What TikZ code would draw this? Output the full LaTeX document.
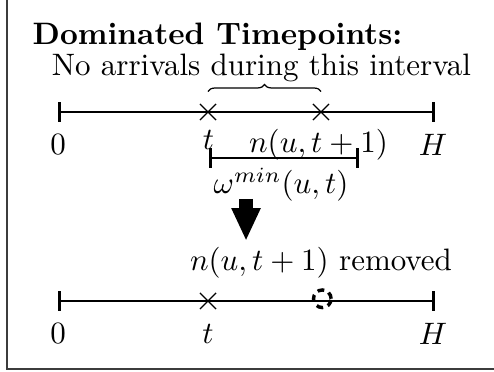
\documentclass[tikz,border=0pt]{standalone}
\usepackage{amsmath,amssymb}
\usepackage{tikz}
\usetikzlibrary{arrows.meta,decorations.pathreplacing,shapes.misc,positioning}
\definecolor{tlInk}{RGB}{0,0,0}
\definecolor{tlFrame}{RGB}{60,60,60}
\tikzset{
  timeline/.style={line width=0.9pt,draw=tlInk,{Bar[width=6.4pt]}-{Bar[width=6.4pt]}},
  tmark/.style={cross out,draw=tlInk,line width=0.4pt,minimum size=4.8pt,inner sep=0pt},
  tlabel/.style={inner sep=0pt,font=\normalsize},
}
\begin{document}
\begin{tikzpicture}
  \useasboundingbox (0,0) rectangle (5.602,4.218);
  \draw[tlFrame,line width=0.6pt] (0.079,4.3) |- (5.7,0.034);
  % heading
  \node[anchor=base,inner sep=0pt,font=\bfseries] (head) at (2.466,3.708) {Dominated Timepoints:};
  \node[anchor=base,inner sep=0pt] (note) at (2.965,3.357) {No arrivals during this interval};
  % upper time line
  \coordinate (u0) at (0.658,2.948);
  \coordinate (uH) at (4.933,2.948);
  \draw[timeline] (u0) -- (uH);
  \node[tmark] (ut) at (2.359,2.948) {};
  \node[tmark] (un) at (3.640,2.948) {};
  \draw[line width=0.4pt,decorate,decoration={brace,amplitude=2.3pt}]
    ([yshift=6.6pt]ut.center) -- ([yshift=6.6pt]un.center);
  \node[tlabel] (u0lab) at (0.658,2.574) {$0$};
  \node[tlabel] (utlab) at (2.365,2.631) {$t$};
  \node[tlabel] (unlab) at (3.612,2.574) {$n(u,t+1)$};
  \node[tlabel] (uHlab) at (4.910,2.574) {$H$};
  % minimum interval
  \coordinate (w0) at (2.370,2.427);
  \coordinate (w1) at (4.071,2.427);
  \draw[timeline] (w0) -- (w1);
  \node[tlabel] (wlab) at (3.187,2.121) {$\omega^{min}(u,t)$};
  % big arrow
  \coordinate (arrA) at (2.790,1.962);
  \coordinate (arrB) at (2.790,1.486);
  \draw[line width=4.5pt,-{Triangle[width=8.7pt,length=10.6pt]}] (arrA) -- (arrB);
  \node[tlabel] (rmlab) at (3.640,1.236) {$n(u,t+1)$ removed};
  % lower time line
  \coordinate (l0) at (0.658,0.805);
  \coordinate (lH) at (4.933,0.805);
  \draw[timeline] (l0) -- (lH);
  \node[tmark] (lt) at (2.359,0.805) {};
  \node[circle,draw=tlInk,dash pattern=on 2.2pt off 1.6pt,line width=1.1pt,minimum size=0.2cm,inner sep=0pt] (gone) at (3.655,0.83) {};
  \node[tlabel] (l0lab) at (0.658,0.431) {$0$};
  \node[tlabel] (ltlab) at (2.359,0.431) {$t$};
  \node[tlabel] (lHlab) at (4.910,0.431) {$H$};
\end{tikzpicture}
\end{document}
